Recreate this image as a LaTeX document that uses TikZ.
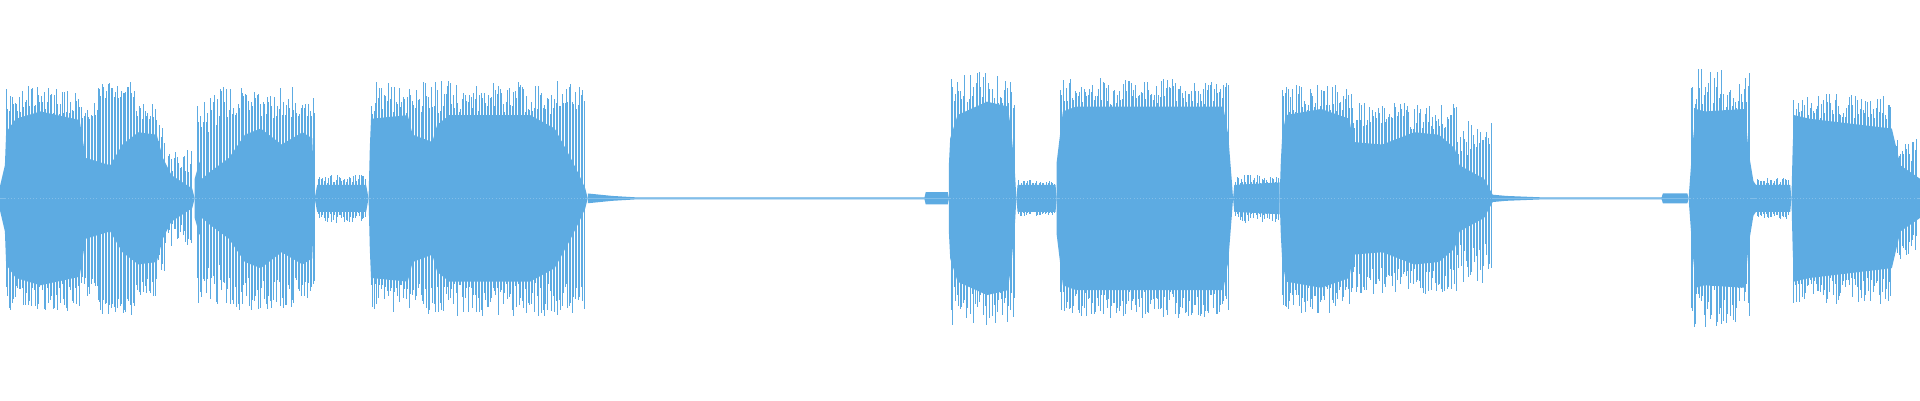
\documentclass[tikz,border=0pt]{standalone}
\definecolor{wave}{RGB}{93,171,226}
\newcommand{\envel}[1]{\fill[wave] #1 -- cycle; \fill[wave,yscale=-1] #1 -- cycle;}
\begin{document}
\begin{tikzpicture}[x=1pt,y=1pt]
\useasboundingbox (0,-164.7) rectangle (1568,162);
% cores
\envel{(0,0) -- (0,10) -- (4,27) -- (5,54) -- (13,65) -- (33,71) -- (65,64) -- (70,33) -- (90,27) -- (100,44) -- (113,54) -- (128,52) -- (133,33) -- (140,19) -- (157,8) -- (159,0)}
\envel{(159,0) -- (159,16) -- (163,30) -- (165,16) -- (172,22) -- (187,33) -- (200,52) -- (213,57) -- (230,44) -- (247,54) -- (255,49) -- (257,0)}
\envel{(257,0) -- (259,11) -- (299,11) -- (301,0)}
\envel{(301,0) -- (302,41) -- (303,65) -- (333,68) -- (337,52) -- (353,46) -- (357,60) -- (367,68) -- (433,68) -- (453,57) -- (465,35) -- (473,19) -- (478,8) -- (480,0)}
\envel{(480,0) -- (480,4) -- (500,2) -- (520,0.8) -- (755,0.8) -- (756,5) -- (774,5) -- (775,0)}
\envel{(775,0) -- (775,29) -- (776,49) -- (782,68) -- (806,79) -- (823,75) -- (826,54) -- (829,19) -- (830,0)}
\envel{(830,0) -- (831,11) -- (862,11) -- (863,0)}
\envel{(863,0) -- (863,30) -- (868,71) -- (879,75) -- (999,75) -- (1003,52) -- (1006,14) -- (1007,0)}
\envel{(1007,0) -- (1008,11) -- (1045,13) -- (1045,0)}
\envel{(1045,0) -- (1046,30) -- (1047,49) -- (1050,68) -- (1079,73) -- (1102,65) -- (1105,46) -- (1129,44) -- (1155,54) -- (1175,52) -- (1188,41) -- (1192,27) -- (1212,16) -- (1219,3) -- (1230,2) -- (1260,0.8) -- (1357,0.8) -- (1358,4) -- (1378,4) -- (1379,0)}
\envel{(1379,0) -- (1382,41) -- (1385,73) -- (1392,71) -- (1425,73) -- (1428,38) -- (1432,14) -- (1434,11) -- (1462,11) -- (1463,0)}
\envel{(1463,0) -- (1464,41) -- (1465,68) -- (1478,65) -- (1545,57) -- (1552,27) -- (1568,16) -- (1568,0)}
% spikes
\pgfmathsetseed{7}
\foreach \a/\b/\h/\lo in {5/65/92/0.75,65/80/80/0.8,80/110/96/0.85,110/128/80/0.8,128/135/60/0.7,135/157/40/0.5,161/180/88/0.6,180/257/92/0.7,260/299/20/0.6,303/478/96/0.72,777/829/104/0.68,832/861/15/0.7,866/1003/98/0.78,1009/1044/20/0.6,1047/1105/94/0.75,1105/1190/78/0.72,1190/1218/70/0.5,1381/1430/106/0.65,1435/1461/17/0.7,1465/1545/86/0.75,1545/1566/50/0.6}{
  \pgfmathtruncatemacro{\n}{(\b-\a)/1.2}
  \foreach \i in {0,...,\n}{
    \pgfmathsetmacro{\xx}{\a+\i*1.2}
    \pgfmathsetmacro{\hu}{\h*(\lo+(1-\lo)*rnd)}
    \pgfmathsetmacro{\hd}{\h*(\lo+(1-\lo)*rnd)}
    \fill[wave] (\xx-0.35,-\hd) rectangle (\xx+0.35,\hu);
  }
}
\end{tikzpicture}
\end{document}
